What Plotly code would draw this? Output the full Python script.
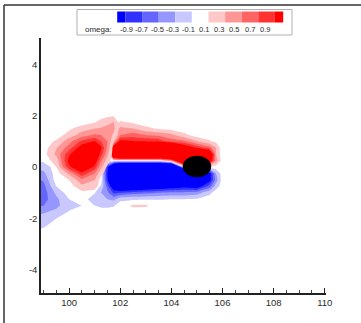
import numpy as np
import plotly.graph_objects as go

# ---------------- data ----------------
LEVELS = [-0.9, -0.7, -0.5, -0.3, -0.1, 0.1, 0.3, 0.5, 0.7, 0.9]
LEVEL_LABELS = ["-0.9", "-0.7", "-0.5", "-0.3", "-0.1", "0.1", "0.3", "0.5", "0.7", "0.9"]
BAND_COLORS = ["#0000ff", "#3232ff", "#6464ff", "#9696ff", "#c8c8ff", "#ffffff",
               "#ffc8c8", "#ff9696", "#ff6464", "#ff3232", "#ff0000"]
LEGEND_TITLE = "omega:"

X_TICKS = [100, 102, 104, 106, 108, 110]
Y_TICKS = [-4, -2, 0, 2, 4]
Y_TICK_TEXT = ["-4", "-2", "0", "2", "4"]
X_RANGE = [98.9, 110.05]
Y_RANGE = [-4.9, 5.02]

# cylinder (black body)
CYL_X, CYL_Y, CYL_RX, CYL_RY = 105.0, 0.02, 0.55, 0.41

# wake behind/around the cylinder (upper red shear layer, lower blue shear layer)
WAKE_X = [100.5, 101.0, 101.25, 101.5, 101.75, 102.0, 102.5, 103.0, 103.5, 104.0, 104.5, 105.0, 105.5, 105.75, 106.0]
WAKE_Y = [2.0, 1.75, 1.5, 1.25, 1.0, 0.75, 0.5, 0.25, 0.0, -0.25, -0.5, -0.75, -1.0, -1.25, -1.5, -1.75]
WAKE_OMEGA = [
    [0, 0, 0, 0, 0, 0.02, 0, 0, 0, 0, 0, 0, 0, 0, 0],
    [0, 0, 0, 0, 0.03, 0.12, 0.06, 0, 0, 0, 0, 0, 0, 0, 0],
    [0, 0, 0, 0, 0.08, 0.35, 0.3, 0.15, 0.07, 0.03, 0, 0, 0, 0, 0],
    [0, 0, 0, 0, 0.12, 0.5, 0.6, 0.5, 0.45, 0.35, 0.15, 0, 0, 0, 0],
    [0, 0, 0, 0, 0.3, 1.0, 0.92, 0.88, 0.85, 0.6, 0.55, 0.3, 0.12, 0.05, 0],
    [0, 0, 0, 0, 1.2, 2.5, 2.5, 2.5, 2.5, 2.2, 1.2, 0.85, 0.6, 0.3, -0.05],
    [0, 0, 0, 0, 2.0, 2.5, 2.5, 2.5, 2.5, 2.5, 2.5, 2.0, 1.5, 0.3, -0.05],
    [0, 0, 0, 0, 0.1, 0.1, 0.1, 0.1, 0.1, 0.5, 2.0, 1.0, 1.2, 0.4, 0],
    [0, 0, 0, -0.8, -2.0, -2.5, -2.5, -2.5, -2.5, -2.5, 0, 0, 0, 0, 0],
    [0, 0, 0, -0.9, -2.0, -2.5, -2.5, -2.5, -2.5, -2.5, -2.5, -1.0, -1.0, -0.3, 0],
    [0, 0, 0, -0.85, -1.8, -2.2, -2.3, -2.4, -2.2, -2.0, -2.5, -2.5, -1.0, -0.4, 0],
    [0, -0.02, -0.12, -0.6, -1.2, -1.5, -1.4, -1.3, -1.2, -1.1, -1.0, -1.1, -0.6, -0.2, 0],
    [0, -0.08, -0.3, -0.45, -0.75, -0.7, -0.6, -0.55, -0.5, -0.45, -0.45, -0.4, -0.15, 0, 0],
    [0, -0.22, -0.3, -0.3, -0.35, -0.15, -0.13, -0.12, -0.11, -0.1, -0.1, -0.08, 0, 0, 0],
    [0, -0.1, -0.15, -0.15, -0.12, 0, 0.14, 0.13, 0, 0, 0, 0, 0, 0, 0],
    [0, 0, 0, 0, 0, 0, 0, 0, 0, 0, 0, 0, 0, 0, 0],
]

# shed positive vortex (left red blob)
BLOB_X = [98.75, 99.0, 99.5, 100.0, 100.5, 101.0, 101.25, 101.5, 101.75, 102.0, 102.25]
BLOB_Y = [2.25, 2.0, 1.75, 1.5, 1.25, 1.0, 0.75, 0.5, 0.25, 0.0, -0.25, -0.5, -0.75, -1.0, -1.25]
BLOB_OMEGA = [
    [0, 0, 0, 0, 0, 0, 0, 0, 0, 0, 0],
    [0, 0, 0, 0, 0, 0, 0.02, 0.06, 0.08, 0.05, 0],
    [0, 0, 0, 0, 0, 0.08, 0.17, 0.25, 0.3, 0, 0],
    [0, 0, 0, 0.06, 0.2, 0.3, 0.32, 0.35, 0.35, 0, 0],
    [0, 0, 0, 0.18, 0.4, 0.52, 0.5, 0.45, 0.25, 0, 0],
    [0, 0, 0.13, 0.42, 0.75, 0.92, 0.7, 0.5, 0.1, 0, 0],
    [0, 0, 0.28, 0.6, 1.05, 1.3, 0.95, 0.45, 0, 0, 0],
    [0, 0.02, 0.35, 0.85, 1.4, 1.3, 0.8, 0.35, 0, 0, 0],
    [0, 0, 0.18, 1.0, 1.5, 1.1, 0.55, 0.2, 0, 0, 0],
    [0, 0, 0.1, 0.85, 1.2, 0.85, 0.35, 0.05, 0, 0, 0],
    [0, 0, 0, 0.35, 0.85, 0.5, 0.15, 0, 0, 0, 0],
    [0, 0, 0, 0.1, 0.45, 0.3, 0.02, 0, 0, 0, 0],
    [0, 0, 0, 0, 0.25, 0.18, 0, 0, 0, 0, 0],
    [0, 0, 0, 0, 0.05, 0.03, 0, 0, 0, 0, 0],
    [0, 0, 0, 0, 0, 0, 0, 0, 0, 0, 0],
]

# older negative vortex at the left edge
LEFT_X = [98.5, 99.0, 99.5, 100.0, 100.5, 101.0]
LEFT_Y = [0.5, 0.25, 0.0, -0.25, -0.5, -0.75, -1.0, -1.25, -1.5, -1.75, -2.0, -2.25, -2.5, -2.75, -3.0]
LEFT_OMEGA = [
    [0, 0, 0, 0, 0, 0],
    [-0.15, -0.06, 0, 0, 0, 0],
    [-0.3, -0.22, 0, 0, 0, 0],
    [-0.42, -0.35, 0, 0, 0, 0],
    [-0.55, -0.48, 0, 0, 0, 0],
    [-0.68, -0.56, -0.1, 0, 0, 0],
    [-0.72, -0.6, -0.25, 0, 0, 0],
    [-0.7, -0.58, -0.35, -0.1, 0, 0],
    [-0.62, -0.5, -0.35, -0.18, -0.1, 0],
    [-0.42, -0.32, -0.25, -0.08, 0, 0],
    [-0.3, -0.22, -0.1, 0, 0, 0],
    [-0.22, -0.14, -0.02, 0, 0, 0],
    [-0.1, -0.05, 0, 0, 0, 0],
    [-0.02, 0, 0, 0, 0, 0],
    [0, 0, 0, 0, 0, 0],
]

# ---------------- layout geometry (pixels) ----------------
W, H = 361, 323
ML, MR, MT, MB = 41, 35, 38, 30
PW, PH = W - ML - MR, H - MT - MB


def pxx(px):
    return (px - ML) / PW


def pxy(py):
    return (H - MB - py) / PH


FONT = "Liberation Sans, Arial, Helvetica, sans-serif"
TXT = "#2a2a2a"

# colour scales: positive magnitudes only, everything below 0.1 transparent
red_scale = [[0.0, "rgba(255,255,255,0)"]] + [[0.2 * (i + 1), c] for i, c in enumerate(BAND_COLORS[6:])]
blue_scale = [[0.0, "rgba(255,255,255,0)"]] + [[0.2 * (i + 1), c] for i, c in enumerate(BAND_COLORS[4::-1])]

step = round(LEVELS[1] - LEVELS[0], 6)


def make_contour(xs, ys_desc, rows, scale, sign=1.0):
    z = (sign * np.array(rows, dtype=float))[::-1]
    y = list(ys_desc)[::-1]
    return go.Contour(
        x=xs, y=y, z=z, colorscale=scale, autocontour=False,
        contours=dict(start=LEVELS[5], end=LEVELS[-1], size=step, coloring="fill", showlines=False),
        line=dict(width=0, smoothing=0), showscale=False, hoverinfo="skip",
    )


fig = go.Figure()
fig.add_trace(make_contour(WAKE_X, WAKE_Y, WAKE_OMEGA, red_scale, 1.0))
fig.add_trace(make_contour(WAKE_X, WAKE_Y, WAKE_OMEGA, blue_scale, -1.0))
fig.add_trace(make_contour(LEFT_X, LEFT_Y, LEFT_OMEGA, blue_scale, -1.0))
fig.add_trace(make_contour(BLOB_X, BLOB_Y, BLOB_OMEGA, red_scale, 1.0))

shapes = []
# cylinder
shapes.append(dict(type="circle", xref="x", yref="y", layer="above",
                   x0=CYL_X - CYL_RX, x1=CYL_X + CYL_RX, y0=CYL_Y - CYL_RY, y1=CYL_Y + CYL_RY,
                   fillcolor="black", line=dict(color="black", width=0.5)))
# outer frame (top and left edges)
shapes.append(dict(type="line", xref="paper", yref="paper", x0=pxx(4), x1=pxx(W + 5), y0=pxy(5), y1=pxy(5),
                   line=dict(color="#333333", width=1.5)))
shapes.append(dict(type="line", xref="paper", yref="paper", x0=pxx(4), x1=pxx(4), y0=pxy(5), y1=pxy(H + 5),
                   line=dict(color="#333333", width=1.5)))
# legend box
shapes.append(dict(type="rect", xref="paper", yref="paper", x0=pxx(77), x1=pxx(292), y0=pxy(35), y1=pxy(9.5),
                   fillcolor="white", line=dict(color="#b0b0b0", width=1)))
# legend swatches
sw_first, sw_step, sw_half = 125.5, 16.6, 8.3
edges = [sw_first - sw_half] + [sw_first + i * sw_step for i in range(len(LEVELS))] + \
        [sw_first + (len(LEVELS) - 1) * sw_step + sw_half]
for k, col in enumerate(BAND_COLORS):
    shapes.append(dict(type="rect", xref="paper", yref="paper", x0=pxx(edges[k]), x1=pxx(edges[k + 1]),
                       y0=pxy(22.5), y1=pxy(11.5), fillcolor=col, line=dict(width=0)))

annotations = []
lab_first, lab_step = 126.5, 15.4
for i, t in enumerate(LEVEL_LABELS):
    annotations.append(dict(xref="paper", yref="paper", x=pxx(lab_first + i * lab_step), y=pxy(29.5),
                            text=t, showarrow=False, xanchor="center", yanchor="middle",
                            font=dict(family=FONT, size=7.5, color=TXT)))
annotations.append(dict(xref="paper", yref="paper", x=pxx(114), y=pxy(29.5), text=LEGEND_TITLE,
                        showarrow=False, xanchor="right", yanchor="middle",
                        font=dict(family=FONT, size=8, color=TXT)))

fig.update_layout(
    width=W, height=H, margin=dict(l=ML, r=MR, t=MT, b=MB, pad=0),
    paper_bgcolor="white", plot_bgcolor="white", showlegend=False,
    shapes=shapes, annotations=annotations,
    xaxis=dict(range=X_RANGE, tickvals=X_TICKS, showgrid=False, zeroline=False,
               showline=True, linecolor="#222222", linewidth=1.5,
               ticks="inside", ticklen=5, tickwidth=1.3, tickcolor="#222222",
               minor=dict(ticks="inside", ticklen=3, tickwidth=1, tickcolor="#444444", dtick=0.5, tick0=100),
               tickfont=dict(family=FONT, size=9.5, color=TXT)),
    yaxis=dict(range=Y_RANGE, tickvals=Y_TICKS, ticktext=Y_TICK_TEXT, showgrid=False, zeroline=False,
               showline=True, linecolor="#222222", linewidth=1.5, ticks="",
               tickfont=dict(family=FONT, size=9.5, color=TXT)),
)

fig.write_html("out.html", config={"displayModeBar": False})
